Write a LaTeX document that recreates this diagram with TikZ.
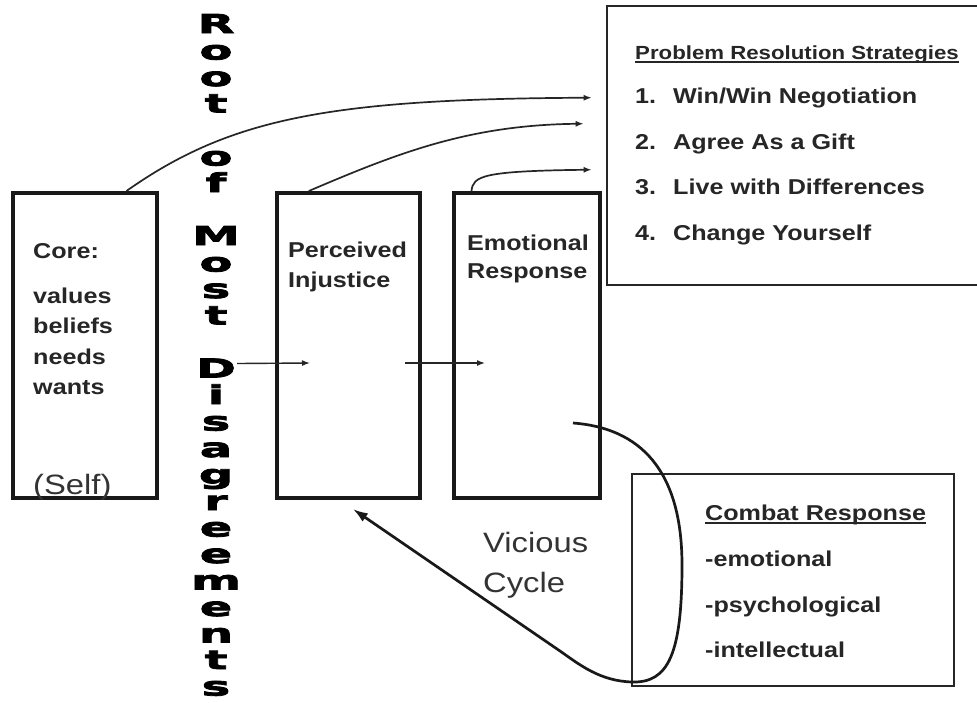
\documentclass[tikz,border=0pt]{standalone}
\usepackage{fontspec}
\setmainfont{Liberation Sans}[FakeStretch=1.17]
\newfontfamily\rootfont{DejaVu Sans}[FakeStretch=1.85,FakeBold=3]
\usetikzlibrary{arrows.meta,calc}
\newcommand\heavyul[1]{\setbox0\hbox{#1}\rlap{\rule[-3.5pt]{\wd0}{1.6pt}}\box0}
\tikzset{
  panel/.style={draw=black!90, line width=4pt, inner sep=0pt},
  listbox/.style={draw=black!85, line width=2.6pt, inner sep=0pt},
  label/.style={anchor=base west, inner sep=0pt, text=black!85,
    font=\bfseries\fontsize{21.5}{24}\selectfont},
  plain/.style={anchor=base west, inner sep=0pt, text=black!80,
    font=\fontsize{28}{32}\selectfont},
  rootletter/.style={anchor=base, inner sep=0pt, text=black,
    font=\rootfont\bfseries\fontsize{26}{28}\selectfont},
  feed/.style={draw=black!85, line width=1.7pt, -{Latex[length=8pt,width=6pt]}},
  cycle/.style={draw=black!90, line width=2.7pt, -{Latex[length=15pt,width=10pt]}}
}
\begin{document}
\begin{tikzpicture}[x=1pt,y=-1pt]
\fill[white] (0,0) rectangle (977,702);
\useasboundingbox (0,0) rectangle (977,702);
\clip (0,0) rectangle (977,702);

% the three stages
\node[panel, minimum width=144pt, minimum height=305pt] (core) at (85,345.5) {};
\node[panel, minimum width=143pt, minimum height=305pt] (inj)  at (348.5,345.5) {};
\node[panel, minimum width=146pt, minimum height=305pt] (emo)  at (527,345.5) {};

% strategy list and combat list
\node[listbox, minimum width=383pt, minimum height=279pt] (strat)  at (798.5,145.5) {};
\node[listbox, minimum width=322pt, minimum height=212pt] (combat) at (793,580) {};

% core contents
\node[label] (core-t) at (33,258) {Core:};
\node[label] (core-1) at (33,303) {values};
\node[label] (core-2) at (33,333) {beliefs};
\node[label] (core-3) at (33,364) {needs};
\node[label] (core-4) at (33,394) {wants};
\node[plain] (self)   at (33,494) {(Self)};

% stage titles
\node[label] (inj-1) at (288,257) {Perceived};
\node[label] (inj-2) at (288,287) {Injustice};
\node[label] (emo-1) at (467,250) {Emotional};
\node[label] (emo-2) at (467,278) {Response};

% strategies
\node[label, font=\bfseries\fontsize{19}{22}\selectfont] (strat-h) at (635,59)
  {\heavyul{Problem Resolution Strategies}};
\node[label] (st-1) at (635,103) {\makebox[38pt][l]{1.}Win/Win Negotiation};
\node[label] (st-2) at (635,149) {\makebox[38pt][l]{2.}Agree As a Gift};
\node[label] (st-3) at (635,194) {\makebox[38pt][l]{3.}Live with Differences};
\node[label] (st-4) at (635,240) {\makebox[38pt][l]{4.}Change Yourself};

% combat responses
\node[label] (cb-h) at (705,520) {\heavyul{Combat Response}};
\node[label] (cb-1) at (705,566) {-emotional};
\node[label] (cb-2) at (705,612) {-psychological};
\node[label] (cb-3) at (705,657) {-intellectual};

% cycle label
\node[plain] (vc-1) at (483,552) {Vicious};
\node[plain] (vc-2) at (483,592) {Cycle};

% vertical title, one letter per line
\foreach \ch [count=\i from 0] in {R,o,o,t,{},o,f,{},M,o,s,t,{},D,i,s,a,g,r,e,e,m,e,n,t,s}
  \node[rootletter] (root-\i) at (216,{33+26.5*\i}) {\ch};

% end points of the connectors
\coordinate (core-up) at ($(core.north west)!0.78!(core.north east)$);
\coordinate (inj-up)  at ($(inj.north west)!0.23!(inj.north east)$);
\coordinate (emo-up)  at ($(emo.north west)!0.13!(emo.north east)$);
\coordinate (s-a) at ($(strat.north west)+(-14,93)$);
\coordinate (s-b) at ($(strat.north west)+(-22,119)$);
\coordinate (s-c) at ($(strat.north west)+(-14,165)$);
\coordinate (d-out)  at ($(root-13.base east)+(1,-14)$);
\coordinate (inj-in) at (310,363);
\coordinate (inj-out) at (405,363);
\coordinate (emo-in) at (485,363);
\coordinate (emo-src) at (573,423);
\coordinate (cyc-end) at ($(inj.south west)!0.53!(inj.south east)+(0,9)$);

% feeds into the strategies
\draw[feed] (core-up) .. controls (230,118) and (330,99) .. (s-a);
\draw[feed] (inj-up) .. controls (400,152) and (470,125) .. (s-b);
\draw[feed] (emo-up) .. controls (473,176) and (482,171) .. (s-c);

% stage to stage
\draw[feed, line width=1.4pt] (d-out) -- (inj-in);
\draw[feed, line width=1.4pt] (inj-out) -- (emo-in);

% the vicious cycle
\draw[cycle] (emo-src) .. controls (640,428) and (682,470) .. (682,565)
  .. controls (682,655) and (668,683) .. (632,682)
  .. controls (600,681) and (580,665) .. (560,651) -- (cyc-end);
\end{tikzpicture}
\end{document}
